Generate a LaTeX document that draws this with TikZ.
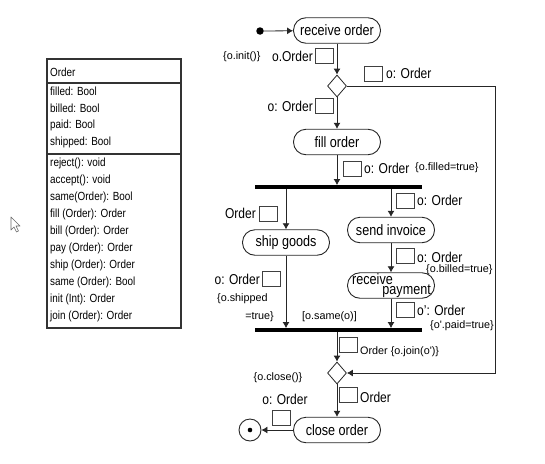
\documentclass[tikz,border=0pt]{standalone}
\usepackage{fontspec}
\setmainfont{Liberation Sans}[FakeStretch=0.84]
\newfontfamily\smallfam{Liberation Sans}
\usetikzlibrary{arrows.meta,shapes.geometric}

\newcommand\actfont{\fontsize{15}{17}\selectfont}
\newcommand\lblfont{\fontsize{14.3}{16}\selectfont}
\newcommand\clsfont{\fontsize{11.8}{14}\selectfont}
\newcommand\consfont{\smallfam\fontsize{10.8}{12}\selectfont}

\begin{document}
\begin{tikzpicture}[x=1pt,y=-1pt,
    act/.style={draw=black!85, line width=0.9pt, rounded corners=12.5pt, minimum width=87pt, minimum height=25.5pt, inner sep=0pt, font=\actfont},
    actxt/.style={inner sep=0pt, font=\actfont},
    dec/.style={draw=black!85, line width=0.8pt, diamond, minimum width=19pt, minimum height=22pt, inner sep=0pt},
    bar/.style={fill=black, minimum width=167pt, minimum height=3.5pt, inner sep=0pt},
    pinbox/.style={draw=black!75, line width=0.7pt, minimum width=18pt, minimum height=15pt, inner sep=0pt},
    lbl/.style={inner sep=0pt, font=\lblfont},
    cons/.style={inner sep=0pt, font=\consfont},
    cls/.style={anchor=west, inner sep=0pt, font=\clsfont},
    arr/.style={draw=black!85, line width=0.8pt, -{Latex[length=6pt,width=7pt]}}]
    \useasboundingbox (0,0) rectangle (545,463);

    % 类 Order 的方框
    \draw[line width=1.3pt, black!80] (47,59) rectangle (181,328);
    \draw[line width=1.3pt, black!80] (47,83) -- (181,83);
    \draw[line width=1.3pt, black!80] (47,154) -- (181,154);
    \node[cls] (cname) at (50,72) {Order};
    \foreach \t [count=\i] in {filled: Bool, billed: Bool, paid: Bool, shipped: Bool} {
        \node[cls] (attr\i) at (50,74+17*\i) {\t};
    }
    \foreach \t [count=\i] in {reject(): void, accept(): void, same(Order): Bool, fill (Order): Order, bill (Order): Order, pay (Order): Order, ship (Order): Order, same (Order): Bool, init (Int): Order, join (Order): Order} {
        \node[cls] (op\i) at (50,146+17*\i) {\t};
    }

    % 鼠标指针
    \draw[black!60, line width=0.6pt, line join=round] (11,217) -- (11,230) -- (14,227) -- (16.5,232) -- (18.5,231) -- (16,226) -- (20,226) -- cycle;

    % 活动节点
    \node[circle, fill=black, minimum size=7.5pt, inner sep=0pt] (start) at (260,31) {};
    \node[act] (recv) at (337,30.5) {receive order};
    \node[dec] (dec1) at (337,86) {};
    \node[act] (fill) at (337,142) {fill order};
    \node[bar] (fork) at (338.5,187) {};
    \node[act] (ship) at (286,242.5) {ship goods};
    \node[act] (inv) at (391,230) {send invoice};
    \node[act] (pay) at (391,285.5) {};
    \node[actxt, anchor=west] (payA) at (352,279) {receive};
    \node[actxt, anchor=east] (payB) at (431,291) {payment};
    \node[bar] (join) at (338.5,330) {};
    \node[dec] (dec2) at (337,373) {};
    \node[act] (close) at (337,430) {close order};
    \node[circle, draw=black!85, line width=0.9pt, minimum size=22pt, inner sep=0pt] (stop) at (250,430) {};
    \fill (stop) circle (2.3pt);
    \coordinate (rline) at (495,0);

    % 箭头
    \draw[arr] (start) -- (recv);
    \draw[arr] (recv) -- (dec1);
    \draw[arr] (dec1) -- (fill);
    \draw[arr] (fill) -- (fill |- fork.north);
    \draw[arr] (fork.south -| ship) -- (ship);
    \draw[arr] (fork.south -| inv) -- (inv);
    \draw[arr] (inv) -- (pay);
    \draw[arr] (ship) -- (ship |- join.north);
    \draw[arr] (pay) -- (pay |- join.north);
    \draw[arr] (join.south -| dec2) -- (dec2);
    \draw[arr] (dec2) -- (close);
    \draw[arr] (close) -- (stop);
    \draw[arr] (dec1.east) -- (dec1.east -| rline) |- (dec2.east); % 拒绝的分支

    % 对象引脚
    \node[pinbox] (p1) at (324.5,55.5) {};
    \node[pinbox] (p2) at (373.5,73.5) {};
    \node[pinbox] (p3) at (324.5,105.5) {};
    \node[pinbox] (p4) at (352.5,168.5) {};
    \node[pinbox] (p5) at (268,213.5) {};
    \node[pinbox] (p6) at (405.5,200.5) {};
    \node[pinbox] (p7) at (405.5,255.5) {};
    \node[pinbox] (p8) at (271.5,279) {};
    \node[pinbox] (p9) at (405.5,309.5) {};
    \node[pinbox] (p10) at (348.5,345) {};
    \node[pinbox] (p11) at (348,395) {};
    \node[pinbox] (p12) at (281.5,418) {};

    % 标签
    \node[lbl, anchor=east] (l1) at (313,56) {o.Order};
    \node[cons, anchor=west] (c1) at (223,57) {\{o.init()\}};
    \node[lbl, anchor=west] (l2) at (386,73) {o: Order};
    \node[lbl, anchor=east] (l3) at (313,106) {o: Order};
    \node[lbl, anchor=west] (l4) at (364,168) {o: Order};
    \node[cons, anchor=west] (c4) at (415,168) {\{o.filled=true\}};
    \node[lbl, anchor=east] (l5) at (256,213) {Order};
    \node[lbl, anchor=west] (l6) at (417,200) {o: Order};
    \node[lbl, anchor=west] (l7) at (417,257) {o: Order};
    \node[cons, anchor=west] (c7) at (426,270) {\{o.billed=true\}};
    \node[lbl, anchor=east] (l8) at (260,279) {o: Order};
    \node[cons, anchor=west] (c8a) at (217,299) {\{o.shipped};
    \node[cons, anchor=east] (c8b) at (274,317) {=true\}};
    \node[cons, anchor=west] (same) at (302,317) {[o.same(o)]};
    \node[lbl, anchor=west] (l9) at (417,310) {o': Order};
    \node[cons, anchor=west] (c9) at (430,326) {\{o'.paid=true\}};
    \node[cons, anchor=west] (l10) at (360,352) {Order \{o.join(o')\}};
    \node[lbl, anchor=west] (l11) at (360,397) {Order};
    \node[cons] (c12) at (278,378) {\{o.close()\}};
    \node[lbl] (l12) at (285,399) {o: Order};
\end{tikzpicture}
\end{document}
